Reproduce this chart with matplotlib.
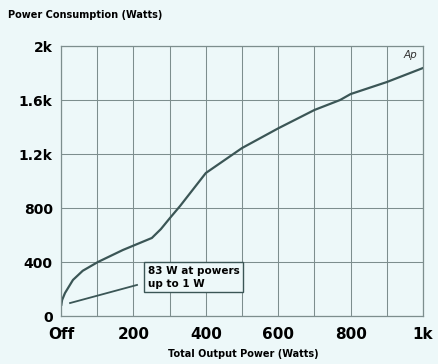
import matplotlib
matplotlib.use('Agg')
import matplotlib.pyplot as plt
import numpy as np

# power consumption curve read across the output range
output_w = [1, 3, 11, 33, 60, 102, 171, 251, 276, 301, 329, 400, 500, 600, 700, 771, 800, 900, 1000]
consumption_w = [83, 118, 170, 267, 335, 400, 489, 578, 644, 726, 815, 1059, 1244, 1390, 1526, 1600, 1644, 1733, 1837]

x_ticks = [0, 200, 400, 600, 800, 1000]
x_labels = ['Off', '200', '400', '600', '800', '1k']
y_ticks = [0, 400, 800, 1200, 1600, 2000]
y_labels = ['0', '400', '800', '1.2k', '1.6k', '2k']

bg = '#edf8f9'
grid_c = '#7d8e8e'
line_c = '#3b5656'

fig = plt.figure(figsize=(4.39, 3.64), dpi=100, facecolor=bg)
ax = fig.add_axes([61 / 439, 48 / 364, 362 / 439, 270 / 364])
ax.set_facecolor(bg)

ax.set_xlim(0, 1000)
ax.set_ylim(0, 2000)
ax.set_xticks(np.arange(0, 1001, 100), minor=True)
ax.set_xticks(x_ticks)
ax.set_xticklabels(x_labels, fontsize=11, fontweight='bold')
ax.set_yticks(y_ticks)
ax.set_yticklabels(y_labels, fontsize=10, fontweight='bold')
ax.tick_params(length=0, pad=6)
ax.tick_params(axis='x', which='major', pad=8)
ax.tick_params(which='minor', length=0)
ax.grid(True, which='both', color=grid_c, lw=0.75)
for s in ax.spines.values():
    s.set_color(grid_c)
    s.set_linewidth(0.9)

ax.plot(output_w, consumption_w, color=line_c, lw=1.6, solid_joinstyle='round')

# note about standby draw
ax.plot([25, 210], [96, 230], color=line_c, lw=1.3)
ax.text(240, 370, '83 W at powers\nup to 1 W', fontsize=7.5, fontweight='bold',
        va='top', ha='left', linespacing=1.35,
        bbox=dict(boxstyle='square,pad=0.35', fc=bg, ec=line_c, lw=1))

ax.text(985, 1935, 'Ap', fontsize=7.5, style='italic', ha='right', va='center', color='#333')

fig.text(8 / 439, 1 - 15 / 364, 'Power Consumption (Watts)', fontsize=7, fontweight='bold',
         ha='left', va='center')
fig.text(243 / 439, 1 - 354 / 364, 'Total Output Power (Watts)', fontsize=7, fontweight='bold',
         ha='center', va='center')

fig.savefig('out.png', dpi=100, facecolor=bg)
